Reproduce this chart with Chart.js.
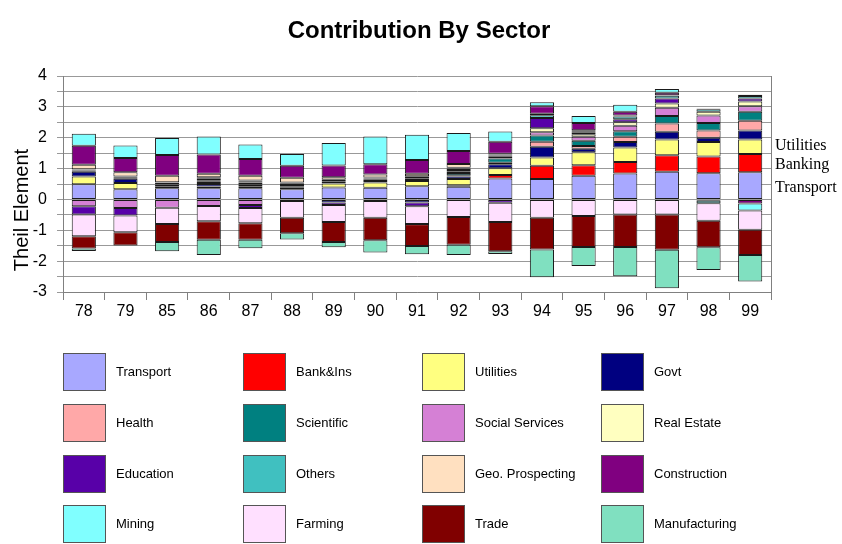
<!DOCTYPE html>
<html><head><meta charset="utf-8">
<script src="https://cdn.jsdelivr.net/npm/chart.js@4"></script>
<style>
html,body{margin:0;padding:0;background:#fff;}
#wrap{position:relative;width:842px;height:544px;font-family:Arial,"Liberation Sans",sans-serif;overflow:hidden;}
#c{position:absolute;left:0;top:0;}
.title{position:absolute;left:0;top:16px;width:838px;text-align:center;font-size:24px;line-height:28px;font-weight:bold;color:#000;}
.ytitle{position:absolute;left:-79px;top:198px;width:200px;height:24px;line-height:24px;text-align:center;font-size:20px;color:#000;transform:rotate(-90deg);white-space:nowrap;}
.note{position:absolute;left:775px;font-family:"Liberation Serif","Times New Roman",serif;font-size:16px;line-height:16px;color:#000;white-space:nowrap;}
.box{position:absolute;width:41px;height:36px;border:1px solid #555;}
.lab{position:absolute;font-size:13px;line-height:16px;color:#000;white-space:nowrap;}
</style></head>
<body><div id="wrap"><canvas id="c" width="842" height="544"></canvas>
<div class="title">Contribution By Sector</div>
<div class="ytitle">Theil Element</div>
</div>
<script>
// ---- data ----
const categories = ['78','79','85','86','87','88','89','90','91','92','93','94','95','96','97','98','99'];
const seriesNames = ['Transport','Bank&Ins','Utilities','Govt','Health','Scientific','Social Services','Real Estate','Education','Others','Geo. Prospecting','Construction','Mining','Farming','Trade','Manufacturing'];
const transport     = [0.49,0.33,0.36,0.36,0.36,0.33,0.39,0.38,0.43,0.41,0.68,0.66,0.77,0.84,0.90,0.85,0.88];
const bankIns       = [0,0,0,0,0,0.05,0,0,0,0.05,0.11,0.43,0.34,0.37,0.53,0.54,0.59];
const utilities     = [0.25,0.20,0.04,0.06,0.07,0.03,0.13,0.17,0.17,0.20,0.22,0.27,0.42,0.47,0.51,0.47,0.47];
const govt          = [0.16,0.14,0.03,0.08,0.06,0.06,-0.10,0.05,-0.10,0.08,0.13,0.35,0.11,0.18,0.25,0.14,0.29];
const health        = [0,0,0,0.03,0,0,0,0,0,0.04,0.05,0.16,0.09,0.17,0.27,0.23,0.32];
const scientific    = [0.04,0.05,0.05,0.06,0.06,0.04,0.05,0.05,0.06,0.08,0.14,0.20,0.17,0.18,0.24,0.25,0.29];
const socialServices= [-0.22,-0.28,-0.27,-0.21,-0.18,0,0,0,0,0.05,0.05,0.11,0.13,0.18,0.27,0.24,0.18];
const realEstate    = [0.02,0.02,0.02,0.03,0.02,0.02,0.03,0.03,0.03,0.04,0.04,0.13,0.08,0.11,0.14,0.12,0.15];
const education     = [-0.27,-0.24,0.04,0.05,-0.10,-0.05,-0.08,-0.05,-0.12,0.05,-0.11,0.33,0.05,0.10,0.16,-0.04,0.10];
const others        = [0.02,0,0.02,0.05,0.04,0.02,0.04,0.03,0.06,0.03,0.04,0.09,0.05,0.09,0.09,0.08,0.08];
const geoProspecting= [0.14,0.14,0.21,0.11,0.16,0.15,0.08,0.10,0.08,0.12,0.02,0.05,0.03,0.03,0.02,0.02,0.04];
const construction  = [0.62,0.46,0.67,0.63,0.54,0.39,0.38,0.33,0.45,0.42,0.39,0.24,0.24,0.12,0.08,0.01,-0.13];
const mining        = [0.39,0.41,0.55,0.58,0.47,0.38,0.73,0.90,0.82,0.58,0.33,0.13,0.22,0.23,0.12,-0.08,-0.23];
const farming       = [-0.70,-0.54,-0.53,-0.50,-0.49,-0.54,-0.55,-0.54,-0.58,-0.57,-0.62,-0.59,-0.54,-0.49,-0.49,-0.57,-0.62];
const trade         = [-0.40,-0.43,-0.58,-0.60,-0.54,-0.51,-0.65,-0.73,-0.71,-0.90,-0.95,-1.03,-1.00,-1.05,-1.14,-0.86,-0.82];
const manufacturing = [-0.08,0,-0.30,-0.49,-0.27,-0.20,-0.17,-0.40,-0.27,-0.33,-0.09,-0.90,-0.62,-0.95,-1.25,-0.74,-0.86];
const yTickValues = [-3,-2,-1,0,1,2,3,4];
const noteLabels = ['Utilities','Banking','Transport'];

// ---- styles ----
const seriesColors = ['#A8A8FF','#FF0000','#FFFF80','#000080','#FFA8A8','#008080','#D580D5','#FFFFC0','#5800A8','#40C0C0','#FFE0C0','#800080','#80FFFF','#FFE0FF','#800000','#80E0C0'];
const seriesValues = [transport,bankIns,utilities,govt,health,scientific,socialServices,realEstate,education,others,geoProspecting,construction,mining,farming,trade,manufacturing];

const datasets = seriesNames.map((n,i)=>({
  label:n, data:seriesValues[i].map(v => v === 0 ? null : v), backgroundColor:seriesColors[i],
  borderColor:'#1a1a1a', borderWidth:1, borderSkipped:false,
  categoryPercentage:1.0, barPercentage:0.58
}));

const FONT = 'Arial, "Liberation Sans", sans-serif';
const frame = {
  id:'frame',
  afterDatasetsDraw(chart){
    const {ctx, chartArea:a} = chart;
    ctx.save();
    ctx.strokeStyle='#808080'; ctx.lineWidth=1;
    ctx.beginPath();
    ctx.moveTo(Math.round(a.right)+0.5, a.top); ctx.lineTo(Math.round(a.right)+0.5, a.bottom);
    ctx.stroke();
    ctx.restore();
  }
};

new Chart(document.getElementById('c'), {
  type:'bar',
  data:{labels:categories, datasets},
  plugins:[frame],
  options:{
    responsive:false, animation:false,
    layout:{padding:{left:0, top:76, right:71, bottom:222}},
    plugins:{
      legend:{display:false},
      tooltip:{enabled:false},
      title:{display:false}
    },
    scales:{
      x:{stacked:true,
        afterFit(s){ s.height = 30; },
        grid:{offset:true, drawOnChartArea:false, color:'#808080', tickLength:8},
        border:{color:'#808080'},
        ticks:{color:'#000', font:{family:FONT, size:16}, padding:2, maxRotation:0, autoSkip:false}
      },
      y:{stacked:true, min:-3, max:4,
        afterFit(s){ s.width = 63; },
        grid:{color:'#999999', tickLength:6},
        border:{color:'#808080'},
        ticks:{stepSize:0.5, autoSkip:false, color:'#000', font:{family:FONT, size:16}, padding:10,
          callback:(v)=> yTickValues.includes(v) ? String(v) : ''}
      }
    }
  }
});

// notes at right
const wrap = document.getElementById('wrap');
const noteTops = [137,156,179];
noteLabels.forEach((t,i)=>{
  const d=document.createElement('div'); d.className='note'; d.textContent=t; d.style.top=noteTops[i]+'px'; wrap.appendChild(d);
});
// legend grid 4x4
const colX=[63,243,422,601], rowY=[353,404,455,505];
seriesNames.forEach((n,i)=>{
  const c=i%4, r=Math.floor(i/4);
  const b=document.createElement('div'); b.className='box';
  b.style.left=colX[c]+'px'; b.style.top=rowY[r]+'px'; b.style.background=seriesColors[i];
  wrap.appendChild(b);
  const l=document.createElement('div'); l.className='lab'; l.textContent=n;
  l.style.left=(colX[c]+53)+'px'; l.style.top=(rowY[r]+11)+'px';
  wrap.appendChild(l);
});
</script>
</body></html>
